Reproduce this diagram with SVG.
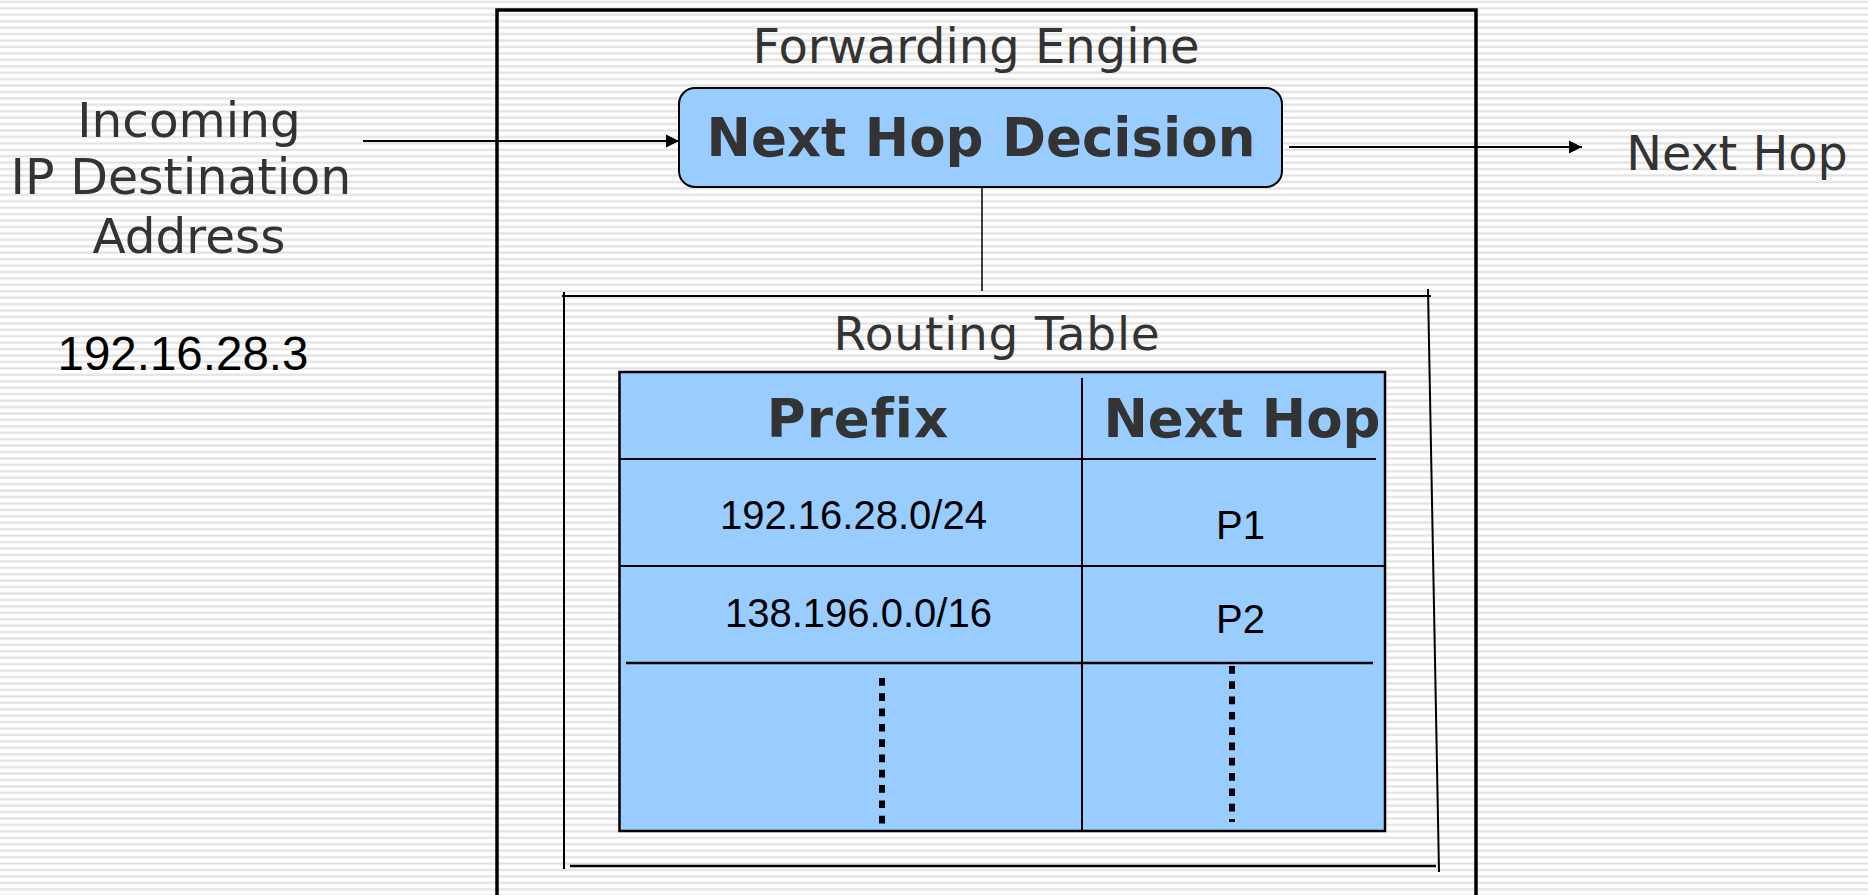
<svg xmlns="http://www.w3.org/2000/svg" width="1868" height="895" viewBox="0 0 1868 895">
  <defs>
    <pattern id="stripes" patternUnits="userSpaceOnUse" x="0" y="0.5" width="20" height="6.43">
      <rect x="0" y="0" width="20" height="6.43" fill="#ffffff"/>
      <rect x="0" y="0" width="20" height="1.1" fill="#ebebeb"/>
      <rect x="0" y="1.1" width="20" height="1.3" fill="#dcdcdc"/>
    </pattern>
    <marker id="arrow" markerWidth="14" markerHeight="14" refX="13" refY="7" orient="auto" markerUnits="userSpaceOnUse">
      <path d="M0,0.5 L13,7 L0,13.5 Z" fill="#000"/>
    </marker>
    <style>
      .lbl { font-family: "DejaVu Sans", Verdana, sans-serif; fill: #333333; }
      .bold { font-weight: bold; font-size: 53px; }
      .arial { font-family: "Liberation Sans", Arial, sans-serif; fill: #000; }
      .box { fill: #99CCFF; stroke: #000; }
      .ln { stroke: #000; fill: none; }
    </style>
  </defs>

  <rect x="0" y="0" width="1868" height="895" fill="url(#stripes)"/>

  <g id="forwarding-engine">
    <rect x="497" y="10" width="979" height="910" fill="none" stroke="#000" stroke-width="3.5"/>
    <text class="lbl" font-size="48" x="976" y="63" text-anchor="middle">Forwarding Engine</text>
  </g>

  <g id="incoming">
    <text class="lbl" font-size="48.5" x="189" y="137" text-anchor="middle">Incoming</text>
    <text class="lbl" font-size="49" x="181" y="194" text-anchor="middle">IP Destination</text>
    <text class="lbl" font-size="48.5" x="189" y="253" text-anchor="middle">Address</text>
    <text class="arial" font-size="47.5" x="57.5" y="370">192.16.28.3</text>
  </g>

  <g id="next-hop-decision">
    <rect class="box" x="679" y="88" width="603" height="99" rx="16" ry="16" stroke-width="2"/>
    <text class="lbl" font-weight="bold" font-size="53" x="981" y="156" text-anchor="middle">Next Hop Decision</text>
  </g>

  <g id="next-hop-out">
    <text class="lbl" font-size="47.7" x="1737" y="170" text-anchor="middle">Next Hop</text>
  </g>

  <g id="routing-table">
    <line class="ln" x1="562" y1="296" x2="1431" y2="296" stroke-width="2"/>
    <line class="ln" x1="564" y1="292" x2="564" y2="869" stroke-width="2"/>
    <line class="ln" x1="1428" y1="289" x2="1439" y2="872" stroke-width="2"/>
    <line class="ln" x1="570" y1="866" x2="1436" y2="866" stroke-width="2.5"/>
    <text class="lbl" font-size="47" letter-spacing="0.8" x="997" y="350" text-anchor="middle">Routing Table</text>

    <g id="table">
      <rect class="box" x="619.5" y="372" width="765.5" height="459" stroke-width="2.5"/>
      <line class="ln" x1="1082" y1="378" x2="1082" y2="831" stroke-width="2"/>
      <line class="ln" x1="619.5" y1="459" x2="1376" y2="459" stroke-width="2"/>
      <line class="ln" x1="619.5" y1="566" x2="1385" y2="566" stroke-width="2"/>
      <line class="ln" x1="626" y1="663" x2="1373" y2="663" stroke-width="2.5"/>
      <line class="ln" x1="882" y1="678" x2="882" y2="826" stroke-width="6" stroke-dasharray="7.7 7.6"/>
      <line class="ln" x1="1232" y1="666" x2="1232" y2="822" stroke-width="6" stroke-dasharray="7.7 7.6"/>
      <text class="lbl bold" letter-spacing="1" x="858" y="437" text-anchor="middle">Prefix</text>
      <text class="lbl bold" x="1242" y="437" text-anchor="middle">Next Hop</text>
      <text class="arial" font-size="40" x="720" y="529">192.16.28.0/24</text>
      <text class="arial" font-size="40" x="725" y="627">138.196.0.0/16</text>
      <text class="arial" font-size="40" x="1216" y="539">P1</text>
      <text class="arial" font-size="40" x="1216" y="633">P2</text>
    </g>
  </g>

  <g id="connectors">
    <line class="ln" x1="363" y1="141" x2="679" y2="141" stroke-width="2" marker-end="url(#arrow)"/>
    <line class="ln" x1="1289" y1="147" x2="1582" y2="147" stroke-width="2" marker-end="url(#arrow)"/>
    <line class="ln" x1="982" y1="187" x2="982" y2="291" stroke-width="1.5"/>
  </g>
</svg>
